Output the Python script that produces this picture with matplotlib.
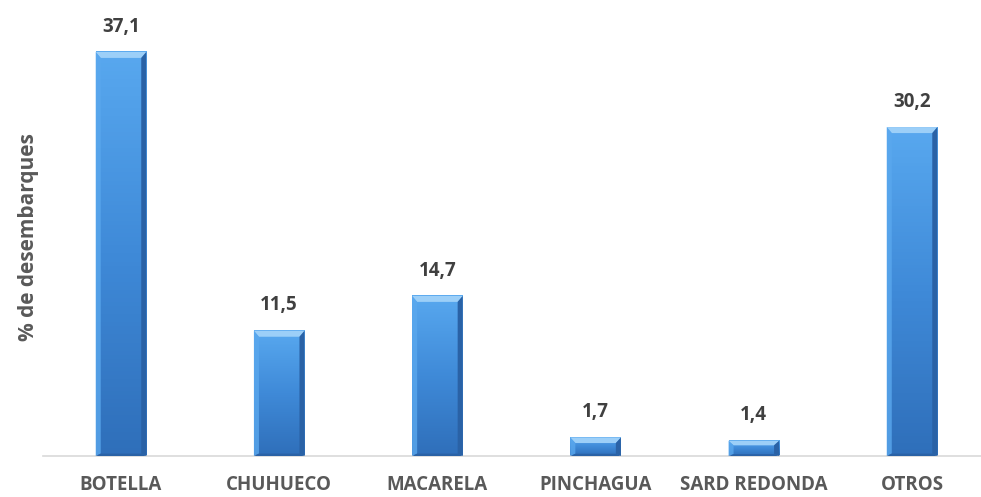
import numpy as np
import matplotlib.pyplot as plt
from matplotlib.patches import Polygon
from matplotlib.colors import LinearSegmentedColormap

especies = ["BOTELLA", "CHUHUECO", "MACARELA", "PINCHAGUA", "SARD REDONDA", "OTROS"]
porcentaje = [37.1, 11.5, 14.7, 1.7, 1.4, 30.2]
etiquetas = ["37,1", "11,5", "14,7", "1,7", "1,4", "30,2"]

plt.rcParams['font.family'] = ['Open Sans', 'DejaVu Sans']

fig = plt.figure(figsize=(9.81, 4.97), dpi=100)
ax = fig.add_axes([43 / 981, 41 / 497, 938 / 981, 446 / 497])

x = np.arange(len(especies))
ancho = 0.32
bars = ax.bar(x, porcentaje, width=ancho, color="#3f8fdc", zorder=2)

ax.set_xlim(-0.493, 5.436)
ax.set_ylim(0, 40.95)

grad = LinearSegmentedColormap.from_list("g", ["#58a8ef", "#3f8ad8", "#2f6fba"])
bx = 0.032   # bevel width (data units x)
by = 0.55    # bevel height (data units y)
for b in bars:
    x0, w, h = b.get_x(), b.get_width(), b.get_height()
    x1 = x0 + w
    b.set_visible(False)
    img = np.linspace(0, 1, 100).reshape(-1, 1)
    ax.imshow(img, cmap=grad, extent=[x0, x1, 0, h], aspect="auto", zorder=2)
    eb = min(by, h * 0.3)
    # top chamfer
    ax.add_patch(Polygon([[x0, h], [x1, h], [x1 - bx, h - eb], [x0 + bx, h - eb]],
                         closed=True, color="#9ccff8", lw=0, zorder=3))
    # left edge
    ax.add_patch(Polygon([[x0, h], [x0 + bx, h - eb], [x0 + bx, eb * 0.4], [x0, 0]],
                         closed=True, color="#5aa8ee", lw=0, alpha=0.8, zorder=3))
    # right edge
    ax.add_patch(Polygon([[x1, h], [x1 - bx, h - eb], [x1 - bx, eb * 0.4], [x1, 0]],
                         closed=True, color="#2a62a6", lw=0, zorder=3))
    # bottom edge
    ax.add_patch(Polygon([[x0, 0], [x1, 0], [x1 - bx, eb * 0.4], [x0 + bx, eb * 0.4]],
                         closed=True, color="#2a62a6", lw=0, zorder=3))

for xi, v, t in zip(x, porcentaje, etiquetas):
    ax.annotate(t, (xi, v), xytext=(0, 11), textcoords="offset points",
                ha="center", va="bottom", fontsize=13.5, fontweight="bold",
                color="#404040")

ax.set_xticks(x)
ax.set_xticklabels(especies, fontsize=13.5, fontweight="bold", color="#595959")
ax.tick_params(axis="x", length=0, pad=14)
ax.set_yticks([])
ax.set_ylabel("% de desembarques", fontsize=15, fontweight="bold", color="#595959")
ax.yaxis.set_label_coords(-0.004, 0.49)

for s in ["top", "right", "left"]:
    ax.spines[s].set_visible(False)
ax.spines["bottom"].set_color("#d9d9d9")
ax.spines["bottom"].set_linewidth(1.2)

fig.savefig("out.png", dpi=100)
